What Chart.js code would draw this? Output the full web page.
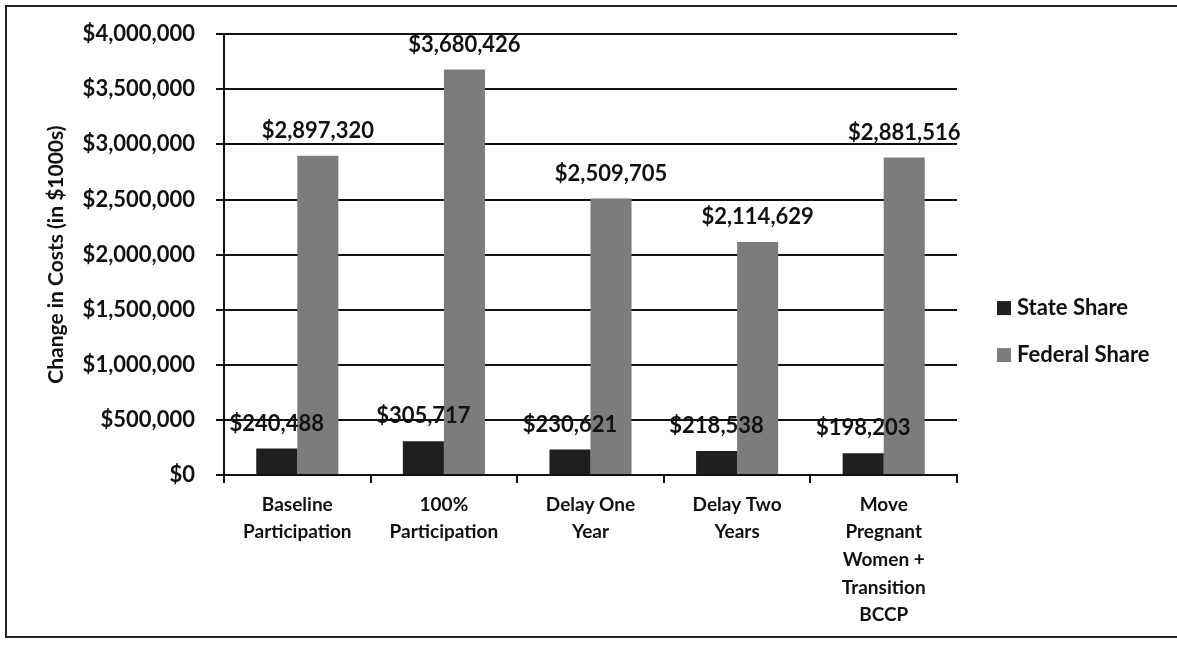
<!DOCTYPE html>
<html>
<head>
<meta charset="utf-8">
<script src="https://cdn.jsdelivr.net/npm/chart.js@4/dist/chart.umd.min.js"></script>
<style>
  html, body { margin: 0; padding: 0; background: #fff; }
  #wrap { position: relative; width: 1177px; height: 647px; }
  #frame { position: absolute; left: 5px; top: 5px; width: 1170px; height: 629px;
    border-left: 2px solid #222; border-top: 2px solid #222; border-bottom: 2px solid #222; pointer-events: none; }
  canvas { position: absolute; left: 0; top: 0; }
</style>
</head>
<body>
<div id="wrap">
  <canvas id="chart" width="1177" height="647"></canvas>
  <div id="frame"></div>
</div>
<script>
const categories = [
  ['Baseline', 'Participation'],
  ['100%', 'Participation'],
  ['Delay One', 'Year'],
  ['Delay Two', 'Years'],
  ['Move', 'Pregnant', 'Women +', 'Transition', 'BCCP']
];
const stateShare = [240488, 305717, 230621, 218538, 198203];
const federalShare = [2897320, 3680426, 2509705, 2114629, 2881516];
const yTicks = [0, 500000, 1000000, 1500000, 2000000, 2500000, 3000000, 3500000, 4000000];

const FONT = 'Lato, "Open Sans", sans-serif';
const money = v => '$' + Number(v).toLocaleString('en-US');

// value labels above each bar
const barLabels = {
  id: 'barLabels',
  afterDatasetsDraw(chart) {
    const ctx = chart.ctx;
    ctx.save();
    ctx.font = 'bold 22px ' + FONT;
    ctx.fillStyle = '#111';
    ctx.textAlign = 'center';
    ctx.textBaseline = 'middle';
    chart.data.datasets.forEach((ds, i) => {
      chart.getDatasetMeta(i).data.forEach((bar, j) => {
        ctx.fillText(money(ds.data[j]), bar.x, bar.y - 25);
      });
    });
    ctx.restore();
  }
};

// legend on the right side
const sideLegend = {
  id: 'sideLegend',
  afterDraw(chart) {
    const ctx = chart.ctx;
    const x = chart.chartArea.right + 40;
    const mid = (chart.chartArea.top + chart.chartArea.bottom) / 2 + 77;
    ctx.save();
    ctx.font = 'bold 22px ' + FONT;
    ctx.textBaseline = 'middle';
    ctx.textAlign = 'left';
    chart.data.datasets.forEach((ds, i) => {
      const y = mid + (i - 0.5) * 47;
      ctx.fillStyle = ds.backgroundColor;
      ctx.fillRect(x, y - 7, 14, 14);
      ctx.fillStyle = '#111';
      ctx.fillText(ds.label, x + 20, y);
    });
    ctx.restore();
  }
};

new Chart(document.getElementById('chart').getContext('2d'), {
  type: 'bar',
  data: {
    labels: categories,
    datasets: [
      { label: 'State Share', data: stateShare, backgroundColor: '#1f1f1f', categoryPercentage: 0.56, barPercentage: 1.0 },
      { label: 'Federal Share', data: federalShare, backgroundColor: '#7c7c7c', categoryPercentage: 0.56, barPercentage: 1.0 }
    ]
  },
  options: {
    responsive: false,
    animation: false,
    layout: { padding: { left: 44, top: 33, right: 220, bottom: 0 } },
    plugins: { legend: { display: false }, tooltip: { enabled: false } },
    scales: {
      x: {
        grid: { drawOnChartArea: false, drawTicks: true, tickLength: 8, color: '#111', lineWidth: 2 },
        border: { display: true, color: '#111', width: 2 },
        ticks: { color: '#111', padding: 8, maxRotation: 0, autoSkip: false,
          font: { family: FONT, weight: 'bold', size: 19, lineHeight: 1.45 } },
        afterFit(scale) { scale.height = 172; }
      },
      y: {
        min: 0, max: 4000000,
        afterBuildTicks(scale) { scale.ticks = yTicks.map(v => ({ value: v })); },
        grid: { color: '#111', lineWidth: 2, drawTicks: true, tickLength: 8 },
        border: { display: true, color: '#111', width: 2 },
        ticks: { color: '#111', padding: 21, callback: v => money(v),
          font: { family: FONT, weight: 'bold', size: 22 } },
        title: { display: true, text: 'Change in Costs (in $1000s)', color: '#111', padding: 0,
          font: { family: FONT, weight: 'bold', size: 21 } },
        afterFit(scale) { scale.width = 180; }
      }
    }
  },
  plugins: [barLabels, sideLegend]
});
</script>
</body>
</html>
